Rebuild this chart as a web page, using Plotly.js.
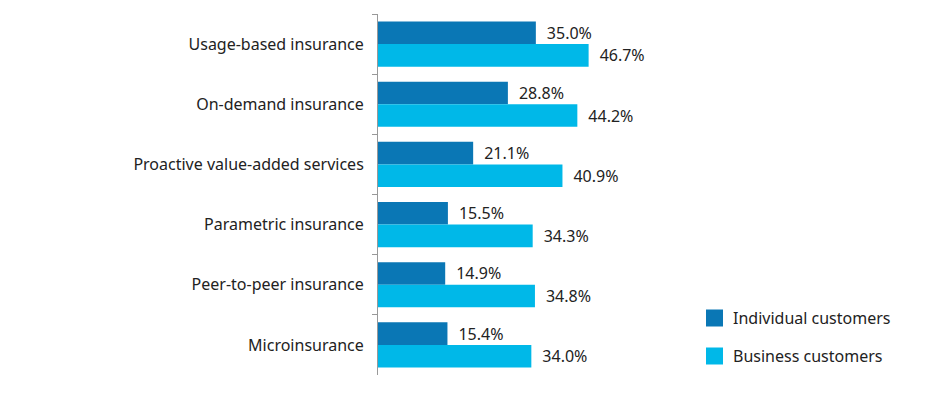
<!DOCTYPE html>
<html>
<head>
<meta charset="utf-8">
<script src="https://cdn.plot.ly/plotly-3.0.1.min.js"></script>
<style>html,body{margin:0;padding:0;background:#fff;}#chart{width:948px;height:393px;}</style>
</head>
<body>
<div id="chart"></div>
<script>
const categories = ["Usage-based insurance", "On-demand insurance", "Proactive value-added services", "Parametric insurance", "Peer-to-peer insurance", "Microinsurance"];
const individual = [35.0, 28.8, 21.1, 15.5, 14.9, 15.4];
const business = [46.7, 44.2, 40.9, 34.3, 34.8, 34.0];
const seriesNames = ["Individual customers", "Business customers"];
const colors = ["#0a77b5", "#00b8e8"];

const fontFam = "Noto Sans, Open Sans, sans-serif";
function mk(vals, name, color) {
  return {
    type: "bar", orientation: "h", x: vals, y: categories, name: name,
    marker: {color: color},
    text: vals.map(v => "\u2002" + v.toFixed(1) + "%"),
    textposition: "outside", cliponaxis: false,
    textfont: {family: fontFam, size: 16, color: "#222"},
    hoverinfo: "x+y"
  };
}
const data = [mk(individual, seriesNames[0], colors[0]), mk(business, seriesNames[1], colors[1])];

// manual legend (positions in pixels converted to paper coords)
const L = 378, W = 451, B = 375, H = 361;
const px = v => (v - L) / W, py = v => (B - v) / H;
const legRows = [318, 356];
const shapes = [], annotations = [];
seriesNames.forEach((n, i) => {
  const cy = legRows[i];
  shapes.push({type: "rect", xref: "paper", yref: "paper", x0: px(706), x1: px(723), y0: py(cy + 8.5), y1: py(cy - 8.5), fillcolor: colors[i], line: {width: 0}});
  annotations.push({xref: "paper", yref: "paper", x: px(731), y: py(cy), xanchor: "left", yanchor: "middle", text: n, showarrow: false, font: {family: fontFam, size: 16, color: "#222"}});
});

const layout = {
  width: 948, height: 393,
  margin: {l: 378, r: 119, t: 14, b: 18},
  paper_bgcolor: "#fff", plot_bgcolor: "#fff",
  barmode: "group", bargap: 0.25, bargroupgap: 0,
  font: {family: fontFam, size: 16, color: "#222"},
  xaxis: {range: [0, 100], visible: false, fixedrange: true},
  yaxis: {
    autorange: "reversed", type: "category",
    showline: true, linecolor: "#999", linewidth: 1,
    ticks: "outside", ticklen: 5, tickcolor: "#999", tickson: "boundaries",
    ticklabelstandoff: 10,
    tickfont: {family: fontFam, size: 16, color: "#222"},
    showgrid: false, zeroline: false
  },
  showlegend: false,
  shapes: shapes,
  annotations: annotations
};
Plotly.newPlot("chart", data, layout, {displayModeBar: false, staticPlot: true});
</script>
</body>
</html>
